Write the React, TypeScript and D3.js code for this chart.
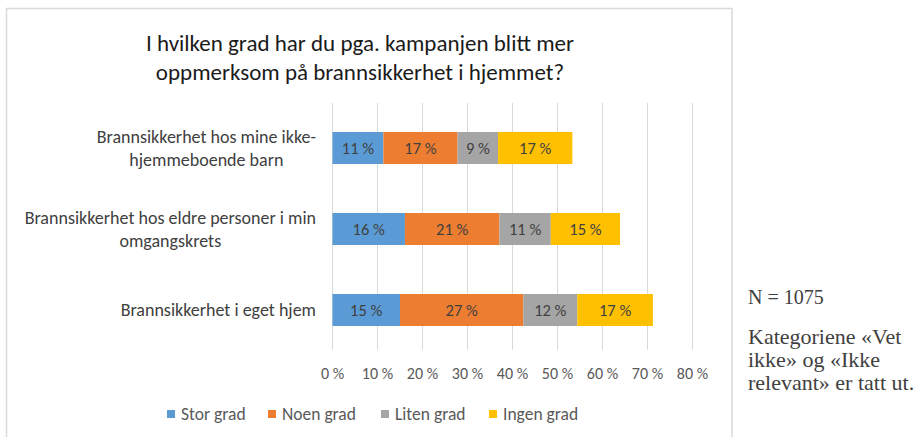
import React from "react";
import * as d3 from "d3";

const categories = [
  "Brannsikkerhet hos mine ikke-|hjemmeboende barn",
  "Brannsikkerhet hos eldre personer i min|omgangskrets",
  "Brannsikkerhet i eget hjem",
];
const seriesNames = ["Stor grad", "Noen grad", "Liten grad", "Ingen grad"];
const storGrad = [11.3, 16.1, 15.0];
const noenGrad = [16.5, 21.0, 27.4];
const litenGrad = [9.0, 11.4, 12.0];
const ingenGrad = [16.5, 15.4, 16.8];
const xTicks = [0, 10, 20, 30, 40, 50, 60, 70, 80];
const titleLines = [
  "I hvilken grad har du pga. kampanjen blitt mer",
  "oppmerksom på brannsikkerhet i hjemmet?",
];
const noteLines = ["N = 1075", "Kategoriene «Vet", "ikke» og «Ikke", "relevant» er tatt ut."];

const colors = ["#5B9BD5", "#ED7D31", "#A5A5A5", "#FFC000"];
const FONT = "Carlito, Lato, 'Open Sans', sans-serif";

function measure(text: string, size: number) {
  const c = document.createElement("canvas").getContext("2d")!;
  c.font = `${size}px Carlito, Lato, sans-serif`;
  return c.measureText(text).width;
}

export default function App() {
  const W = 916, H = 437;
  const x = d3.scaleLinear().domain([0, 80]).range([332.5, 692.5]);
  const y = d3.scaleBand<number>().domain([0, 1, 2]).range([107.5, 350.5]).paddingInner(0.605).paddingOuter(0.3025);
  const seriesVals = [storGrad, noenGrad, litenGrad, ingenGrad];
  const table = categories.map((c, i) => {
    const row: any = { i };
    seriesNames.forEach((s, k) => (row[s] = seriesVals[k][i]));
    return row;
  });
  const stacked = d3.stack<any>().keys(seriesNames)(table);
  const bw = y.bandwidth();
  const legendX = [167, 268, 381, 489];
  const catSize = 18;

  return (
    <svg width={W} height={H} style={{ position: "absolute", left: 0, top: 0 }}>
      <rect x={0} y={0} width={W} height={H} fill="#fff" />
      <rect x={6.5} y={8.5} width={725.5} height={440} fill="#fff" stroke="#D9D9D9" strokeWidth={1.5} />
      {titleLines.map((t, i) => (
        <text key={i} x={360} y={51 + i * 29} textAnchor="middle" fontFamily={FONT} fontSize={23} fill="#1a1a1a">
          {t}
        </text>
      ))}
      {xTicks.map((t) => (
        <line key={t} x1={x(t)} x2={x(t)} y1={103} y2={350} stroke="#D9D9D9" strokeWidth={1} />
      ))}
      {stacked.map((s, k) =>
        s.map((d, i) => {
          const y0 = y(i)!;
          const v = seriesVals[k][i];
          return (
            <g key={`${k}-${i}`}>
              <rect x={x(d[0])} y={y0} width={x(d[1]) - x(d[0])} height={bw} fill={colors[k]} />
              <text x={(x(d[0]) + x(d[1])) / 2} y={y0 + bw / 2 + 6} textAnchor="middle" fontFamily={FONT} fontSize={16.5} fill="#404040">
                {`${Math.round(v)} %`}
              </text>
            </g>
          );
        })
      )}
      {categories.map((c, i) => {
        const lines = c.split("|");
        const maxW = Math.max(...lines.map((l) => measure(l, catSize)));
        const cx = 316 - maxW / 2;
        const cy = y(i)! + bw / 2;
        const start = cy - ((lines.length - 1) * 23) / 2 + 6;
        return lines.map((l, j) => (
          <text key={`${i}-${j}`} x={cx} y={start + j * 23} textAnchor="middle" fontFamily={FONT} fontSize={catSize} fill="#404040">
            {l}
          </text>
        ));
      })}
      {xTicks.map((t) => (
        <text key={t} x={x(t)} y={379} textAnchor="middle" fontFamily={FONT} fontSize={16} fill="#595959">
          {`${t} %`}
        </text>
      ))}
      {seriesNames.map((s, k) => (
        <g key={s}>
          <rect x={legendX[k]} y={410} width={8} height={8} fill={colors[k]} />
          <text x={legendX[k] + 14} y={420} fontFamily={FONT} fontSize={17.5} fill="#595959">
            {s}
          </text>
        </g>
      ))}
      {noteLines.map((t, i) => (
        <text key={i} x={748} y={i === 0 ? 304 : 344 + (i - 1) * 23} fontFamily="'Liberation Serif', 'Times New Roman', serif" fontSize={i === 0 ? 20 : 22} fill="#404040">
          {t}
        </text>
      ))}
    </svg>
  );
}
